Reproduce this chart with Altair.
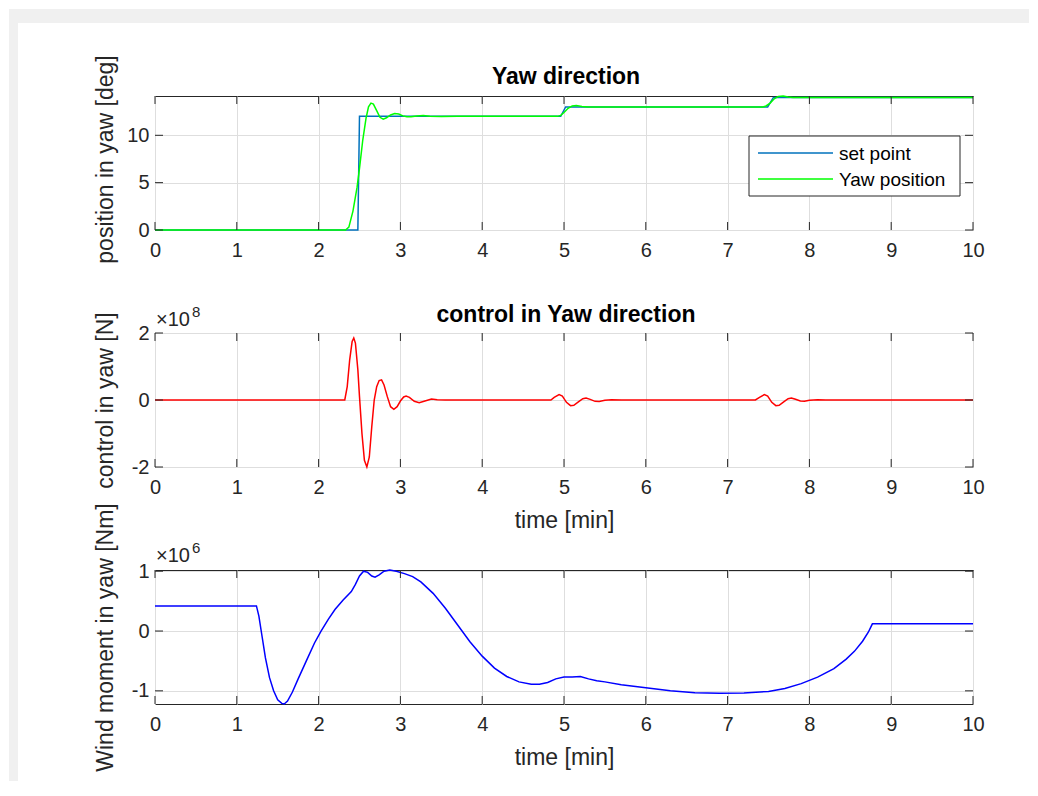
import altair as alt
import pandas as pd

FONT = "Liberation Sans"
AX = "#262626"
GRID = "#dedede"
W, H = 818, 134

# ---------------- data ----------------
TIME_TICKS = [0, 1, 2, 3, 4, 5, 6, 7, 8, 9, 10]
POS_TICKS = [0, 5, 10]
CTRL_TICKS = [-2, 0, 2]
WIND_TICKS = [-1, 0, 1]

SERIES = ["set point", "Yaw position"]
SERIES_COLORS = ["#0072BD", "#00FF00"]

SET_T = [0, 2.48, 2.5, 4.96, 5.02, 7.49, 7.56, 10]
SET_V = [0, 0, 12, 12, 13, 13, 14, 14]

YAW_T = [0, 2.33, 2.37, 2.42, 2.47, 2.5, 2.54, 2.58, 2.61, 2.64, 2.67, 2.71,
         2.75, 2.79, 2.83, 2.88, 2.93, 2.98, 3.03, 3.08, 3.13, 3.2, 3.28, 3.36,
         3.5, 3.7, 4.92, 4.96, 5.0, 5.05, 5.1, 5.15, 5.22, 5.3, 7.43, 7.47,
         7.52, 7.57, 7.62, 7.68, 7.74, 7.8, 10]
YAW_V = [0, 0, 0.3, 2, 4.5, 6.5, 9.5, 11.8, 13.0, 13.4, 13.3, 12.6,
         11.9, 11.7, 11.85, 12.15, 12.3, 12.25, 12.05, 11.95, 11.95, 12.05, 12.08, 12.0,
         11.98, 12.0, 12.0, 12.1, 12.4, 12.85, 13.1, 13.15, 13.05, 13.0, 13.0, 13.1,
         13.4, 13.85, 14.1, 14.15, 14.05, 14.0, 14.0]

# control force, in units of 1e8 N
CTRL_T = [0, 2.32, 2.35, 2.38, 2.41, 2.43, 2.45, 2.48, 2.5, 2.53, 2.56, 2.59,
          2.62, 2.65, 2.68, 2.71, 2.74, 2.77, 2.8, 2.84, 2.88, 2.92, 2.96, 3.0,
          3.04, 3.07, 3.11, 3.17, 3.23, 3.3, 3.38, 3.45, 3.55, 4.84, 4.88, 4.94,
          4.98, 5.03, 5.08, 5.12, 5.18, 5.23, 5.27, 5.32, 5.38, 5.43, 5.5, 5.58,
          5.7, 7.34, 7.39, 7.45, 7.49, 7.54, 7.59, 7.63, 7.69, 7.74, 7.78, 7.83,
          7.89, 7.94, 8.0, 8.1, 8.2, 10]
CTRL_V = [0, 0, 0.4, 1.2, 1.75, 1.85, 1.7, 0.9, 0.1, -1.0, -1.8, -2.0,
          -1.7, -0.8, 0.0, 0.4, 0.58, 0.6, 0.45, 0.1, -0.2, -0.28, -0.2, -0.03,
          0.09, 0.12, 0.08, -0.04, -0.08, -0.03, 0.03, 0.01, 0, 0, 0.08, 0.16,
          0.12, -0.07, -0.17, -0.16, -0.05, 0.04, 0.06, 0.02, -0.04, -0.045, -0.01, 0.01,
          0, 0, 0.08, 0.16, 0.12, -0.07, -0.17, -0.16, -0.05, 0.04, 0.06, 0.02,
          -0.03, -0.04, -0.01, 0.01, 0, 0]

# wind moment, in units of 1e6 Nm
WIND_T = [0, 1.24, 1.27, 1.31, 1.35, 1.4, 1.45, 1.5, 1.55, 1.58, 1.62, 1.68,
          1.75, 1.85, 1.95, 2.03, 2.12, 2.2, 2.3, 2.4, 2.45, 2.5, 2.55, 2.6,
          2.65, 2.69, 2.74, 2.8, 2.87, 2.95, 3.05, 3.15, 3.25, 3.4, 3.55, 3.7,
          3.85, 4.0, 4.15, 4.3, 4.45, 4.6, 4.7, 4.8, 4.9, 5.0, 5.1, 5.2,
          5.3, 5.4, 5.5, 5.7, 6.0, 6.3, 6.6, 6.9, 7.2, 7.5, 7.7, 7.9,
          8.1, 8.3, 8.45, 8.55, 8.65, 8.72, 8.77, 10]
WIND_V = [0.42, 0.42, 0.25, -0.1, -0.45, -0.78, -1.0, -1.15, -1.21, -1.22, -1.17, -1.02,
          -0.8, -0.5, -0.2, 0.0, 0.2, 0.36, 0.52, 0.66, 0.78, 0.92, 1.0, 0.98,
          0.92, 0.9, 0.94, 1.0, 1.02, 1.0, 0.96, 0.91, 0.82, 0.63, 0.38, 0.1,
          -0.18, -0.42, -0.62, -0.76, -0.85, -0.89, -0.89, -0.86, -0.8, -0.77, -0.77, -0.76,
          -0.8, -0.83, -0.85, -0.9, -0.95, -1.0, -1.03, -1.04, -1.035, -1.01, -0.96, -0.88,
          -0.77, -0.63, -0.47, -0.34, -0.17, -0.02, 0.12, 0.12]

ONE = pd.DataFrame({"k": [0]})
LABEL_EXPR = "'' + datum.value"


def xaxis(title):
    kw = dict(values=TIME_TICKS, labelExpr=LABEL_EXPR, grid=True, gridColor=GRID, gridWidth=1,
              domain=False, ticks=False, tickSize=0, labelFont=FONT, labelFontSize=20,
              labelColor=AX, labelPadding=10, labelFlush=False, labelOverlap=False)
    if title:
        kw.update(title=title, titleFont=FONT, titleFontSize=23, titleFontWeight="normal",
                  titleColor=AX, titleX=W / 2, titleY=60, titleBaseline="alphabetic",
                  titleAlign="center", titleAnchor="middle")
    else:
        kw.update(title=None)
    return alt.Axis(**kw)


def yaxis(title, ticks, center):
    return alt.Axis(values=ticks, labelExpr=LABEL_EXPR, grid=True, gridColor=GRID, gridWidth=1,
                    domain=False, ticks=False, tickSize=0, labelFont=FONT, labelFontSize=20,
                    labelColor=AX, labelPadding=6, labelOverlap=False,
                    title=title, titleFont=FONT, titleFontSize=23, titleFontWeight="normal",
                    titleColor=AX, titleAngle=-90, titleX=-43, titleY=center,
                    titleBaseline="alphabetic", titleAlign="center")


def panel(lines, xtitle, ytitle, yticks, ydom, ycenter, extra=()):
    xs = alt.Scale(domain=[0, 10], nice=False, zero=False)
    ys = alt.Scale(domain=ydom, nice=False, zero=False)
    xa = xaxis(xtitle)
    ya = yaxis(ytitle, yticks, ycenter)

    def X(f):
        return alt.X(f"{f}:Q", scale=xs, axis=xa)

    def Y(f):
        return alt.Y(f"{f}:Q", scale=ys, axis=ya)

    layers = []
    for df, enc_color, sw in lines:
        if isinstance(enc_color, str):
            ch = alt.Chart(df).mark_line(strokeWidth=sw, color=enc_color)
            layers.append(ch.encode(x=X("t"), y=Y("v")))
        else:
            ch = alt.Chart(df).mark_line(strokeWidth=sw)
            layers.append(ch.encode(x=X("t"), y=Y("v"), color=enc_color, detail="series:N"))

    xt = pd.DataFrame({"t": TIME_TICKS})
    yt = pd.DataFrame({"v": yticks})
    tick = dict(color=AX, strokeWidth=1)
    layers += [
        alt.Chart(xt).mark_rule(**tick).encode(x=X("t"), y=alt.value(H - 8), y2=alt.value(H)),
        alt.Chart(xt).mark_rule(**tick).encode(x=X("t"), y=alt.value(0), y2=alt.value(8)),
        alt.Chart(yt).mark_rule(**tick).encode(y=Y("v"), x=alt.value(0), x2=alt.value(8)),
        alt.Chart(yt).mark_rule(**tick).encode(y=Y("v"), x=alt.value(W - 8), x2=alt.value(W)),
    ]
    layers += list(extra)
    return alt.layer(*layers).properties(width=W, height=H)


def txt(s, x, y, size, weight="normal", align="left", color=AX):
    return alt.Chart(ONE).mark_text(text=s, font=FONT, fontSize=size, fontWeight=weight,
                                    align=align, baseline="alphabetic", color=color
                                    ).encode(x=alt.value(x), y=alt.value(y))


# ---------- panel 1 ----------
df_set = pd.DataFrame({"t": SET_T, "v": SET_V, "series": SERIES[0]})
df_yaw = pd.DataFrame({"t": YAW_T, "v": YAW_V, "series": SERIES[1]})
df1 = pd.concat([df_set, df_yaw], ignore_index=True)
color1 = alt.Color("series:N", scale=alt.Scale(domain=SERIES, range=SERIES_COLORS), legend=None)

bg = [
    alt.Chart(ONE).mark_rect(fill="#f0f0f0").encode(
        x=alt.value(-146), x2=alt.value(-137), y=alt.value(-87), y2=alt.value(685)),
    alt.Chart(ONE).mark_rect(fill="#f0f0f0").encode(
        x=alt.value(-146), x2=alt.value(874), y=alt.value(-87), y2=alt.value(-73)),
]
legend = [
    alt.Chart(ONE).mark_rect(fill="white", stroke=AX, strokeWidth=1).encode(
        x=alt.value(594), x2=alt.value(805), y=alt.value(40), y2=alt.value(100)),
    alt.Chart(ONE).mark_rule(color=SERIES_COLORS[0], strokeWidth=1.5).encode(
        x=alt.value(603), x2=alt.value(678), y=alt.value(57)),
    alt.Chart(ONE).mark_rule(color=SERIES_COLORS[1], strokeWidth=1.5).encode(
        x=alt.value(603), x2=alt.value(678), y=alt.value(83)),
    txt(SERIES[0], 684, 64, 19, color="#000000"),
    txt(SERIES[1], 684, 90, 19, color="#000000"),
]
p1 = panel([(df1, color1, 1.5)], None, "position in yaw [deg]", POS_TICKS, [0, 14.15], 63,
           extra=bg + legend + [txt("Yaw direction", W / 2 + 2, -11.7, 23, "bold", "center", "#000000")])

# ---------- panel 2 ----------
df2 = pd.DataFrame({"t": CTRL_T, "v": CTRL_V})
p2 = panel([(df2, "#FF0000", 1.5)], "time [min]", "control in yaw [N]", CTRL_TICKS, [-2, 2], 67,
           extra=[txt("control in Yaw direction", W / 2 + 2, -11.3, 23, "bold", "center", "#000000"),
                  txt("×10", 1, -7, 20), txt("8", 37, -16, 15)])

# ---------- panel 3 ----------
df3 = pd.DataFrame({"t": WIND_T, "v": WIND_V})
p3 = panel([(df3, "#0000FF", 1.5)], "time [min]", "Wind moment in yaw [Nm]", WIND_TICKS, [-1.22, 1.02], 67,
           extra=[txt("×10", 1, -8, 20), txt("6", 37, -17, 15)])

chart = alt.vconcat(p1, p2, p3, spacing=103, bounds="flush").properties(
    padding=0, background="white"
).configure_view(stroke=AX, strokeWidth=1)

chart.save("out.html", embed_options={"renderer": "svg", "actions": False})
